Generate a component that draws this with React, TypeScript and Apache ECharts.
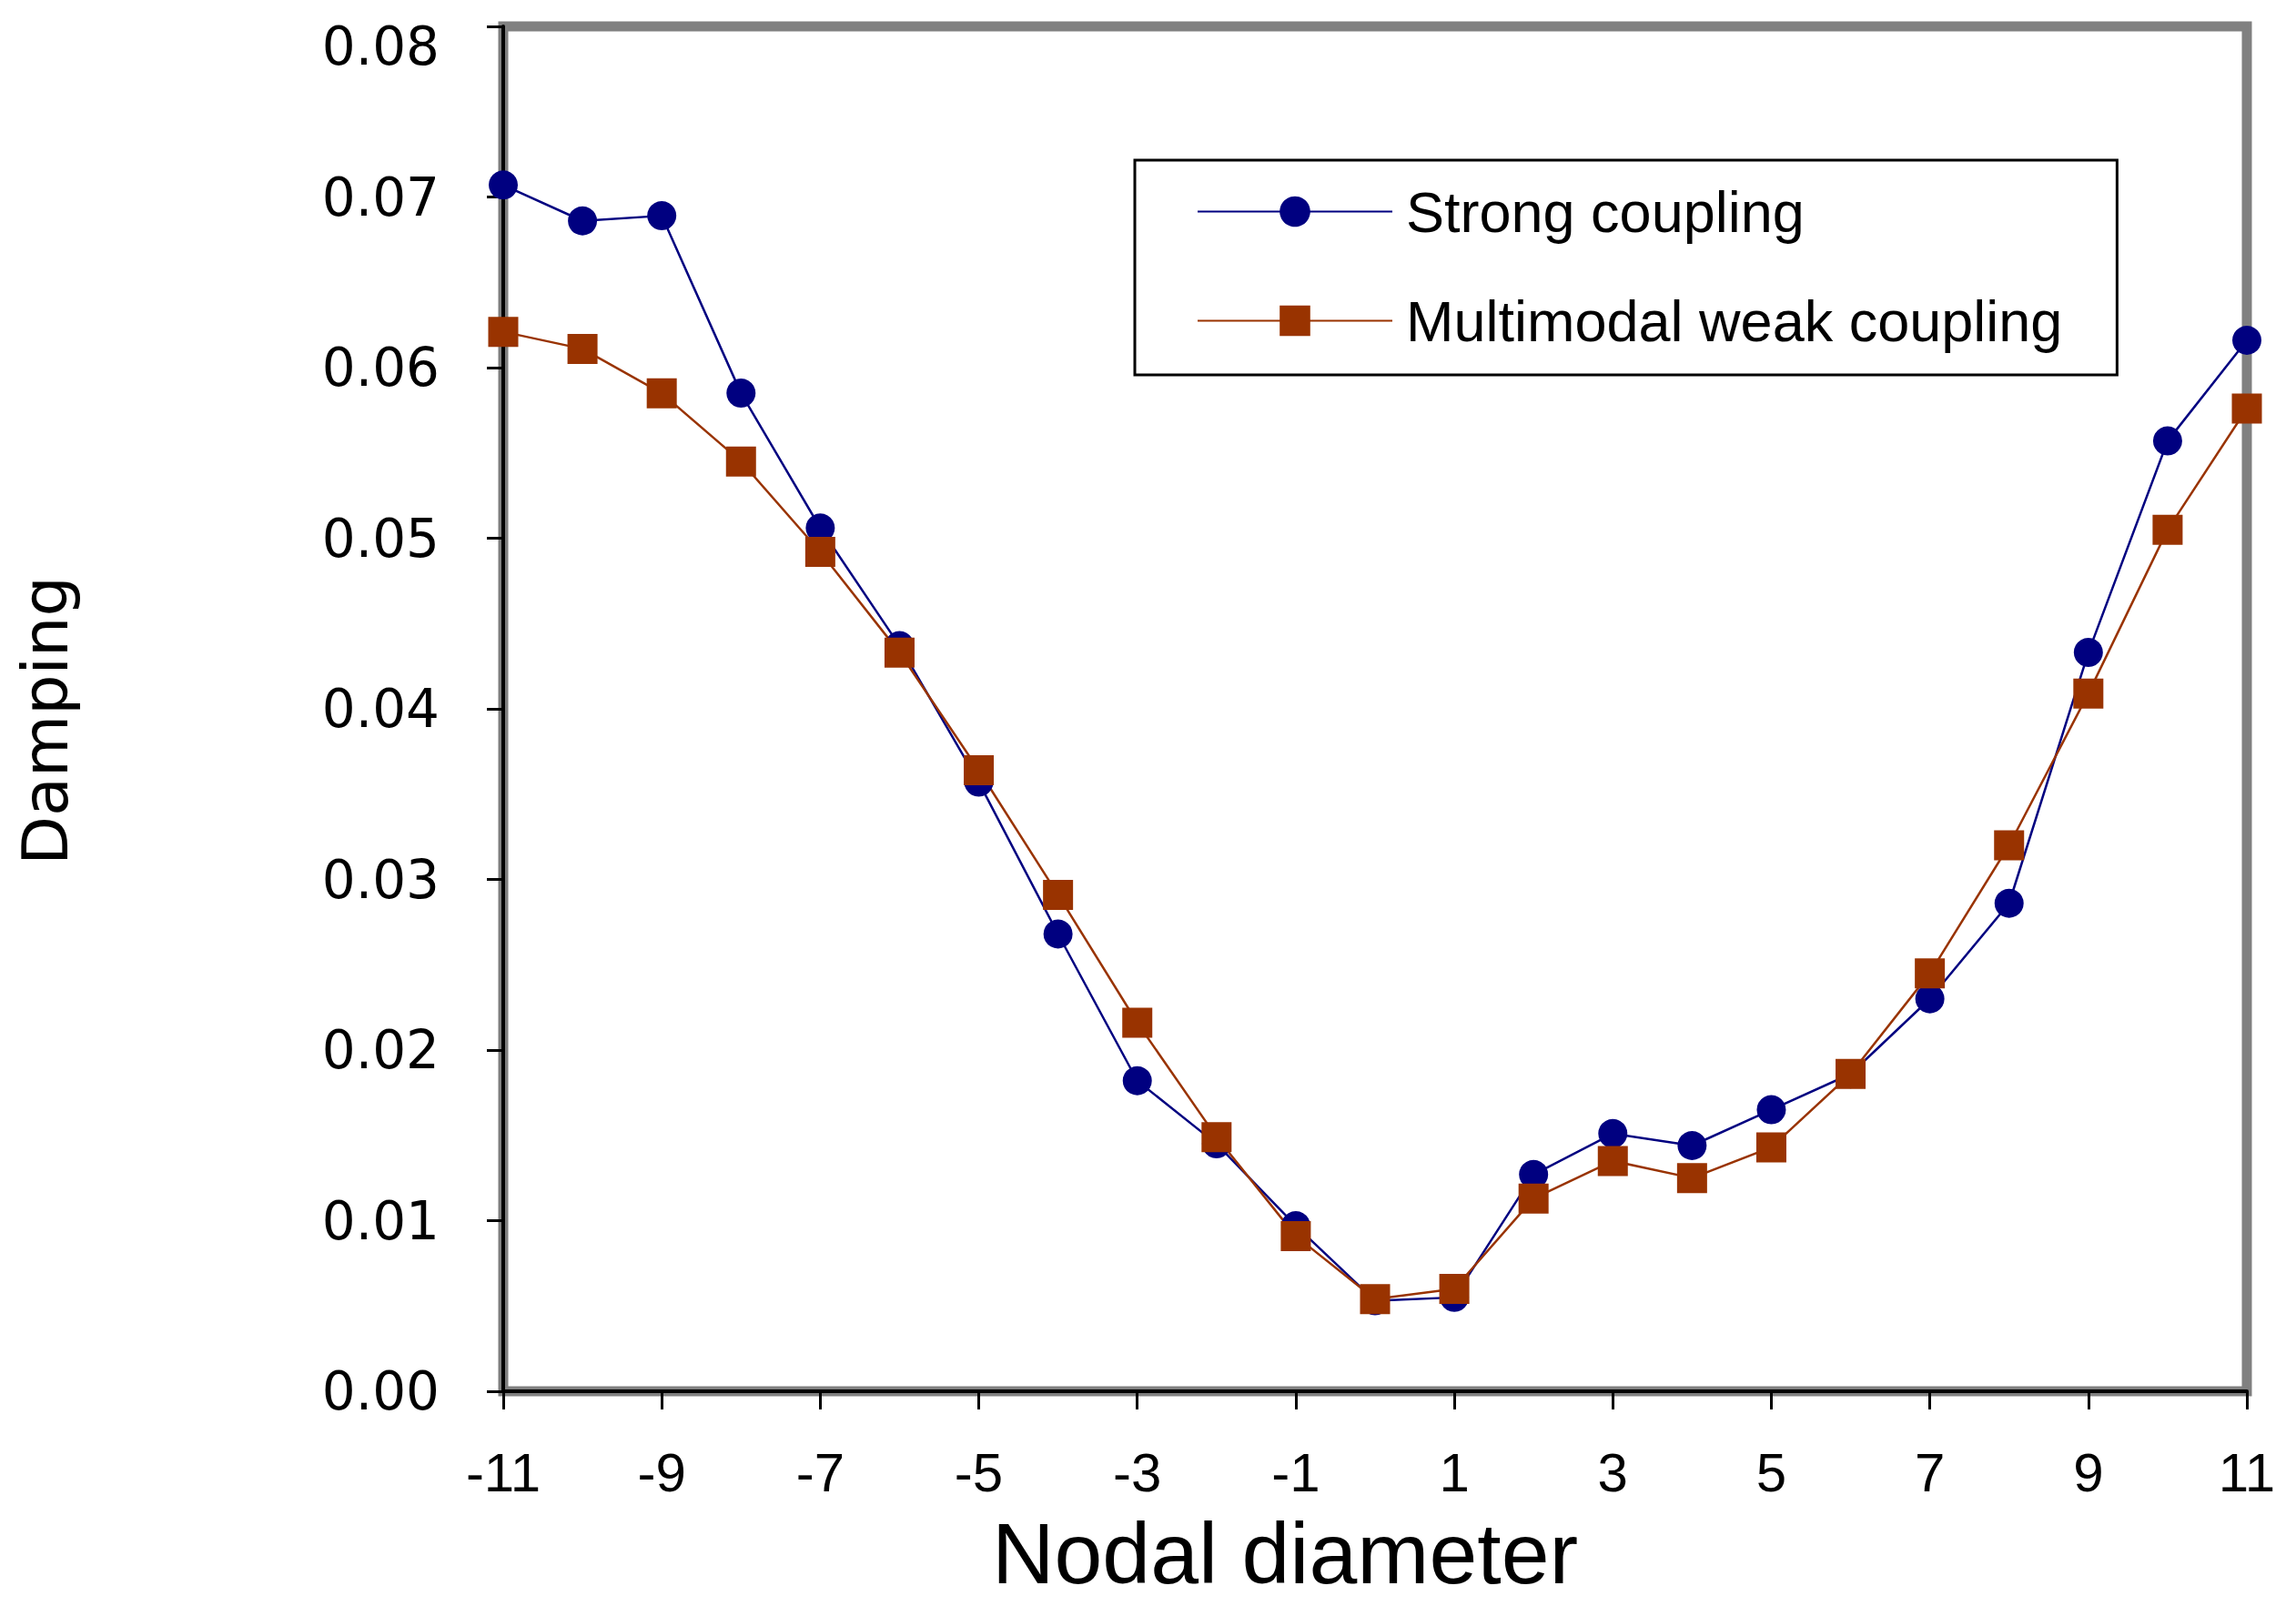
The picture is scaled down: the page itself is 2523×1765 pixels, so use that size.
import React, { useEffect, useRef } from "react";
import * as echarts from "echarts";

const nodalDiameters = ["-11","-10","-9","-8","-7","-6","-5","-4","-3","-2","-1","0","1","2","3","4","5","6","7","8","9","10","11"];
const strongCoupling = [0.0707, 0.0686, 0.0689, 0.0585, 0.0506, 0.0437, 0.0357, 0.0268, 0.0182, 0.0145, 0.0097, 0.0053, 0.0055, 0.0127, 0.0151, 0.0144, 0.0165, 0.0186, 0.0230, 0.0286, 0.0433, 0.0557, 0.0616];
const weakCoupling = [0.0621, 0.0611, 0.0585, 0.0545, 0.0492, 0.0433, 0.0364, 0.0291, 0.0216, 0.0149, 0.0091, 0.0054, 0.0060, 0.0113, 0.0135, 0.0125, 0.0143, 0.0186, 0.0245, 0.0320, 0.0409, 0.0505, 0.0576];
const seriesNames = ["Strong coupling", "Multimodal weak coupling"];
const yMax = 0.08;

export default function App() {
  const ref = useRef<HTMLDivElement>(null);
  useEffect(() => {
    if (!ref.current) return;
    const chart = echarts.init(ref.current, null, { renderer: "svg" });
    chart.setOption({
      animation: false,
      backgroundColor: "#ffffff",
      grid: {
        left: 553,
        top: 29,
        width: 1916,
        height: 1500,
        show: true,
        borderColor: "#808080",
        borderWidth: 11,
        backgroundColor: "transparent",
      },
      legend: {
        orient: "vertical",
        left: 1247,
        top: 176,
        padding: [25, 60, 28, 68],
        borderColor: "#000000",
        borderWidth: 3,
        backgroundColor: "#ffffff",
        itemWidth: 214,
        itemHeight: 42,
        itemGap: 57,
        textStyle: {
          fontFamily: "Liberation Sans, Arial, sans-serif",
          fontSize: 63,
          color: "#000000",
          padding: [0, 0, 0, 10],
        },
        data: seriesNames,
      },
      xAxis: {
        type: "category",
        data: nodalDiameters,
        boundaryGap: false,
        name: "Nodal diameter",
        nameLocation: "middle",
        nameGap: 130,
        nameTextStyle: {
          fontFamily: "Liberation Sans, Arial, sans-serif",
          fontSize: 95,
          color: "#000000",
          padding: [0, 198, 0, 0],
        },
        axisLine: { show: true, lineStyle: { color: "#000000", width: 4 } },
        axisTick: { show: true, interval: 1, length: 20, lineStyle: { color: "#000000", width: 3 } },
        axisLabel: {
          interval: 1,
          margin: 59,
          fontFamily: "Liberation Sans, Arial, sans-serif",
          fontSize: 60,
          color: "#000000",
        },
        splitLine: { show: false },
      },
      yAxis: {
        type: "value",
        min: 0,
        max: yMax,
        interval: 0.01,
        name: "Damping",
        nameLocation: "middle",
        nameGap: 468,
        nameTextStyle: {
          fontFamily: "DejaVu Sans, sans-serif",
          fontSize: 70,
          color: "#000000",
          padding: [0, 26, 0, 0],
        },
        axisLine: { show: true, lineStyle: { color: "#000000", width: 4 } },
        axisTick: { show: true, length: 18, lineStyle: { color: "#000000", width: 3 } },
        axisLabel: {
          margin: 70,
          fontFamily: "DejaVu Sans, sans-serif",
          fontSize: 58,
          color: "#000000",
          formatter: (v: number) =>
            Math.abs(v - yMax) < 1e-9 ? "{top|" + v.toFixed(2) + "}" : v.toFixed(2),
          rich: {
            top: {
              fontFamily: "DejaVu Sans, sans-serif",
              fontSize: 58,
              color: "#000000",
              padding: [44, 0, 0, 0],
            },
          },
        },
        splitLine: { show: false },
      },
      series: [
        {
          name: seriesNames[0],
          type: "line",
          data: strongCoupling,
          symbol: "circle",
          symbolSize: 32,
          itemStyle: { color: "#000080" },
          lineStyle: { color: "#000080", width: 2.5 },
        },
        {
          name: seriesNames[1],
          type: "line",
          data: weakCoupling,
          symbol: "rect",
          symbolSize: 33,
          itemStyle: { color: "#993300" },
          lineStyle: { color: "#993300", width: 2.5 },
        },
      ],
    });
    return () => chart.dispose();
  }, []);
  return (
    <div
      ref={ref}
      style={{ position: "absolute", left: 0, top: 0, width: 2523, height: 1765, background: "#ffffff" }}
    />
  );
}
